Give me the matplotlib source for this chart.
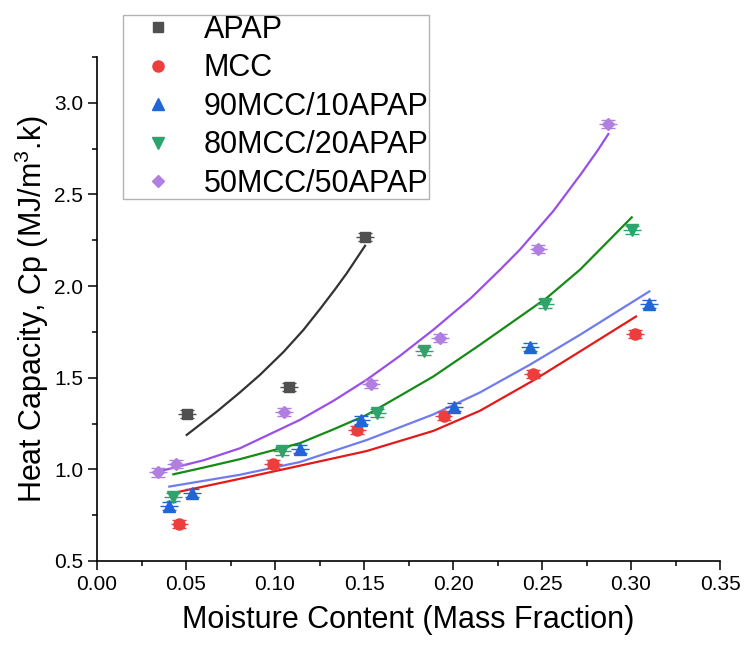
import numpy as np
import matplotlib
matplotlib.use('Agg')
from matplotlib import pyplot as plt
from matplotlib.ticker import MultipleLocator

plt.rcParams['font.family'] = ['Liberation Sans', 'DejaVu Sans']
plt.rcParams['mathtext.fontset'] = 'custom'
plt.rcParams['mathtext.rm'] = 'Liberation Sans'

# measured points
apap_x = [0.0504, 0.1077, 0.1506]
apap_y = [1.301, 1.448, 2.268]

mcc_x = [0.0463, 0.0991, 0.1462, 0.1947, 0.2450, 0.3022]
mcc_y = [0.703, 1.027, 1.215, 1.292, 1.520, 1.740]

m90_x = [0.0405, 0.0534, 0.1139, 0.1485, 0.2006, 0.2434, 0.3103]
m90_y = [0.801, 0.872, 1.110, 1.269, 1.342, 1.669, 1.900]

m80_x = [0.0427, 0.1040, 0.1573, 0.1836, 0.2519, 0.3004]
m80_y = [0.851, 1.099, 1.310, 1.645, 1.905, 2.304]

m50_x = [0.0344, 0.0444, 0.1050, 0.1538, 0.1927, 0.2480, 0.2873]
m50_y = [0.983, 1.028, 1.315, 1.466, 1.716, 2.204, 2.885]

x_err = 0.005
y_err = 0.022

# fitted curves
apap_fx = [0.0504, 0.0673, 0.0803, 0.0916, 0.1047, 0.1159, 0.1253, 0.1337, 0.1403, 0.1506]
apap_fy = [1.188, 1.315, 1.420, 1.516, 1.640, 1.760, 1.875, 1.982, 2.070, 2.220]

mcc_fx = [0.0462, 0.0800, 0.1140, 0.1515, 0.1890, 0.2152, 0.2451, 0.2713, 0.3028]
mcc_fy = [0.878, 0.948, 1.020, 1.100, 1.210, 1.320, 1.485, 1.643, 1.834]

m90_fx = [0.0406, 0.0800, 0.1140, 0.1515, 0.1890, 0.2152, 0.2430, 0.2713, 0.3103]
m90_fy = [0.906, 0.970, 1.040, 1.160, 1.300, 1.420, 1.570, 1.734, 1.971]

m80_fx = [0.0429, 0.0600, 0.0800, 0.1140, 0.1330, 0.1515, 0.1700, 0.1890, 0.2152, 0.2526, 0.2713, 0.3004]
m80_fy = [0.973, 1.010, 1.055, 1.143, 1.219, 1.297, 1.400, 1.507, 1.680, 1.935, 2.089, 2.375]

m50_fx = [0.0344, 0.0600, 0.0803, 0.1140, 0.1330, 0.1515, 0.1700, 0.1890, 0.2100, 0.2264,
          0.2376, 0.2564, 0.2723, 0.2816, 0.2873]
m50_fy = [0.988, 1.050, 1.115, 1.270, 1.375, 1.489, 1.618, 1.762, 1.934, 2.089,
          2.199, 2.410, 2.617, 2.745, 2.830]

labels = ['APAP', 'MCC', '90MCC/10APAP', '80MCC/20APAP', '50MCC/50APAP']

fig = plt.figure(figsize=(7.48, 6.47), dpi=100)
ax = fig.add_axes([97/748, 1-561/647, (720-97)/748, (561-57)/647])

series = [
    (apap_x, apap_y, apap_fx, apap_fy, 's', 7.5, '#505050', '#333333'),
    (mcc_x, mcc_y, mcc_fx, mcc_fy, 'o', 8, '#ee3d3d', '#e41a1a'),
    (m90_x, m90_y, m90_fx, m90_fy, '^', 9, '#1f66d9', '#6e7cf0'),
    (m80_x, m80_y, m80_fx, m80_fy, 'v', 9, '#2ea36b', '#168a16'),
    (m50_x, m50_y, m50_fx, m50_fy, 'D', 6.2, '#b07fe0', '#9a4fe8'),
]

handles = []
for (x, y, fx, fy, mk, ms, mc, lc), lab in zip(series, labels):
    ax.plot(fx, fy, '-', color=lc, lw=1.6, zorder=2, solid_joinstyle='round')
    ax.errorbar(x, y, xerr=x_err, fmt='none', ecolor=mc, elinewidth=1.0,
                capsize=0, zorder=3)
    ax.errorbar(x, y, yerr=y_err, fmt='none', ecolor=mc, elinewidth=0,
                capsize=5, capthick=1.0, zorder=3)
    h, = ax.plot(x, y, ls='none', marker=mk, ms=ms, color=mc, mec=mc, zorder=4)
    handles.append(h)

ax.set_xlim(0, 0.35)
ax.set_ylim(0.5, 3.25)
ax.xaxis.set_major_locator(MultipleLocator(0.05))
ax.xaxis.set_minor_locator(MultipleLocator(0.025))
ax.yaxis.set_major_locator(MultipleLocator(0.5))
ax.yaxis.set_minor_locator(MultipleLocator(0.25))
ax.xaxis.set_major_formatter(plt.FormatStrFormatter('%.2f'))
ax.yaxis.set_major_formatter(plt.FormatStrFormatter('%.1f'))

for s in ['top', 'right']:
    ax.spines[s].set_visible(False)
for s in ['left', 'bottom']:
    ax.spines[s].set_linewidth(1.2)

ax.tick_params(which='major', direction='out', length=6.5, width=1.1, labelsize=15)
ax.tick_params(which='minor', direction='out', length=3.5, width=1.1)

ax.set_xlabel('Moisture Content (Mass Fraction)', fontsize=22, labelpad=8)
ax.set_ylabel('Heat Capacity, Cp (MJ/m$^3$.k)', fontsize=22, labelpad=2)

leg = fig.legend(handles, labels, loc='lower left',
                 bbox_to_anchor=(123/748, 1-199/647), bbox_transform=fig.transFigure,
                 fontsize=22, frameon=True, fancybox=False, borderaxespad=0,
                 borderpad=0.0, handlelength=2.3, handletextpad=0.35,
                 labelspacing=0.28, numpoints=1)
leg.get_frame().set_edgecolor('#a0a0a0')
leg.get_frame().set_linewidth(1.0)

fig.savefig('out.png', dpi=100)
